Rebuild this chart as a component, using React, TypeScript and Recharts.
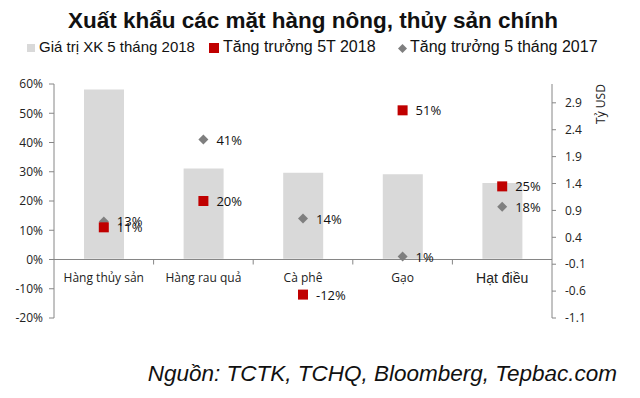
import React from "react";
import {
  ComposedChart,
  Bar,
  Line,
  XAxis,
  YAxis,
  ReferenceLine,
  LabelList,
} from "recharts";

const categories = ["Hàng thủy sản", "Hàng rau quả", "Cà phê", "Gạo", "Hạt điều"];
const exportValue2018 = [3.15, 1.68, 1.6, 1.57, 1.41]; // Tỷ USD
const growth2018 = [11, 20, -12, 51, 25]; // %
const growth2017 = [13, 41, 14, 1, 18]; // %
const leftTicks = [-20, -10, 0, 10, 20, 30, 40, 50, 60];
const rightTicks = [-1.1, -0.6, -0.1, 0.4, 0.9, 1.4, 1.9, 2.4, 2.9];

const data = categories.map((name, i) => ({
  name,
  value: exportValue2018[i],
  g2018: growth2018[i],
  g2017: growth2017[i],
}));

const W = 640;
const H = 398;
const LEFT_W = 54;
const RIGHT_W = 88;
const TOP = 84;
const BOTTOM = 318;
const ZERO_Y = TOP + ((BOTTOM - TOP) * 60) / 80;
const BAND = (W - LEFT_W - RIGHT_W) / categories.length;

const AXIS = "#868686";
const BAR_GRAY = "#d9d9d9";
const RED = "#c00000";
const DIAMOND = "#7f7f7f";
const FONT = "'Open Sans', 'Liberation Sans', sans-serif";
const ARIAL = "'Liberation Sans', Arial, sans-serif";

const CategoryTick = (props: any) => {
  const { x, payload, index } = props;
  const big = payload.value === "Hạt điều";
  return (
    <g>
      {index > 0 && (
        <line
          x1={x - BAND / 2}
          x2={x - BAND / 2}
          y1={ZERO_Y}
          y2={ZERO_Y + 5}
          stroke={AXIS}
        />
      )}
      <text
        x={x}
        y={ZERO_Y + 18}
        textAnchor="middle"
        dominantBaseline="central"
        fontSize={big ? 14 : 12}
        fontFamily={big ? ARIAL : FONT}
        fill="#222"
      >
        {payload.value}
      </text>
    </g>
  );
};

const SquareDot = (props: any) => {
  const { cx, cy } = props;
  if (cx == null || cy == null) return null;
  return <rect x={cx - 5} y={cy - 5} width={10} height={10} fill={RED} />;
};

const DiamondDot = (props: any) => {
  const { cx, cy } = props;
  if (cx == null || cy == null) return null;
  return (
    <polygon
      points={`${cx},${cy - 5} ${cx + 5},${cy} ${cx},${cy + 5} ${cx - 5},${cy}`}
      fill={DIAMOND}
    />
  );
};

const PctLabel = (props: any) => {
  const { x, y, value } = props;
  return (
    <text
      x={x + 13}
      y={y}
      dominantBaseline="central"
      fontSize={13}
      fontFamily={FONT}
      fill="#111"
    >
      {value}%
    </text>
  );
};

const legendText = (left: number, size: number): React.CSSProperties => ({
  position: "absolute",
  left,
  top: 37,
  fontFamily: ARIAL,
  fontSize: size,
  lineHeight: "20px",
  color: "#111",
  whiteSpace: "nowrap",
});

export default function App() {
  return (
    <div
      style={{
        position: "absolute",
        left: 0,
        top: 0,
        width: W,
        height: H,
        background: "#fff",
        fontFamily: FONT,
      }}
    >
      <div
        style={{
          position: "absolute",
          left: 0,
          width: 626,
          top: 7,
          textAlign: "center",
          fontFamily: ARIAL,
          fontWeight: "bold",
          fontSize: 22.5,
          lineHeight: "28px",
          color: "#111",
          whiteSpace: "nowrap",
        }}
      >
        Xuất khẩu các mặt hàng nông, thủy sản chính
      </div>

      {/* legend */}
      <div style={{ position: "absolute", left: 27, top: 44, width: 8, height: 8, background: BAR_GRAY }} />
      <div style={legendText(39, 15)}>Giá trị XK 5 tháng 2018</div>
      <div style={{ position: "absolute", left: 209, top: 43, width: 10, height: 10, background: RED }} />
      <div style={legendText(223, 16)}>Tăng trưởng 5T 2018</div>
      <svg style={{ position: "absolute", left: 398, top: 44 }} width={9} height={9}>
        <polygon points="4.5,0 9,4.5 4.5,9 0,4.5" fill={DIAMOND} />
      </svg>
      <div style={legendText(410, 16)}>Tăng trưởng 5 tháng 2017</div>

      <div style={{ position: "absolute", left: 0, top: 0 }}>
        <ComposedChart
          width={W}
          height={H}
          data={data}
          margin={{ top: TOP, right: 0, bottom: H - BOTTOM - 30, left: 0 }}
        >
          <XAxis
            dataKey="name"
            height={30}
            axisLine={false}
            tickLine={false}
            tick={<CategoryTick />}
            interval={0}
          />
          <YAxis
            yAxisId="left"
            width={LEFT_W}
            domain={[-20, 60]}
            ticks={leftTicks}
            tickFormatter={(v: number) => `${v}%`}
            stroke={AXIS}
            tickSize={5}
            tickMargin={6}
            tick={{ fontSize: 12, fill: "#222", fontFamily: FONT }}
            allowDataOverflow
          />
          <YAxis
            yAxisId="right"
            orientation="right"
            width={RIGHT_W}
            domain={[-1.1, 3.25]}
            ticks={rightTicks}
            tickFormatter={(v: number) => v.toFixed(1)}
            stroke={AXIS}
            tickSize={4}
            tickMargin={9}
            tick={{ fontSize: 12, fill: "#222", fontFamily: FONT }}
            allowDataOverflow
            label={{
              content: ({ viewBox }: any) => (
                <text
                  x={viewBox.x + 48}
                  y={viewBox.y + 20}
                  transform={`rotate(-90 ${viewBox.x + 48} ${viewBox.y + 20})`}
                  textAnchor="middle"
                  dominantBaseline="central"
                  fontSize={12}
                  fontFamily={FONT}
                  fill="#222"
                >
                  Tỷ USD
                </text>
              ),
            }}
          />
          <Bar
            yAxisId="right"
            dataKey="value"
            fill={BAR_GRAY}
            barSize={40}
            isAnimationActive={false}
          />
          <ReferenceLine yAxisId="left" y={0} stroke={AXIS} />
          <Line
            yAxisId="left"
            dataKey="g2017"
            stroke="none"
            dot={<DiamondDot />}
            activeDot={false}
            isAnimationActive={false}
          >
            <LabelList dataKey="g2017" content={<PctLabel />} />
          </Line>
          <Line
            yAxisId="left"
            dataKey="g2018"
            stroke="none"
            dot={<SquareDot />}
            activeDot={false}
            isAnimationActive={false}
          >
            <LabelList dataKey="g2018" content={<PctLabel />} />
          </Line>
        </ComposedChart>
      </div>

      <div
        style={{
          position: "absolute",
          right: 23,
          top: 360,
          fontFamily: ARIAL,
          fontStyle: "italic",
          fontSize: 22.5,
          lineHeight: "28px",
          color: "#111",
          whiteSpace: "nowrap",
        }}
      >
        Nguồn: TCTK, TCHQ, Bloomberg, Tepbac.com
      </div>
    </div>
  );
}
